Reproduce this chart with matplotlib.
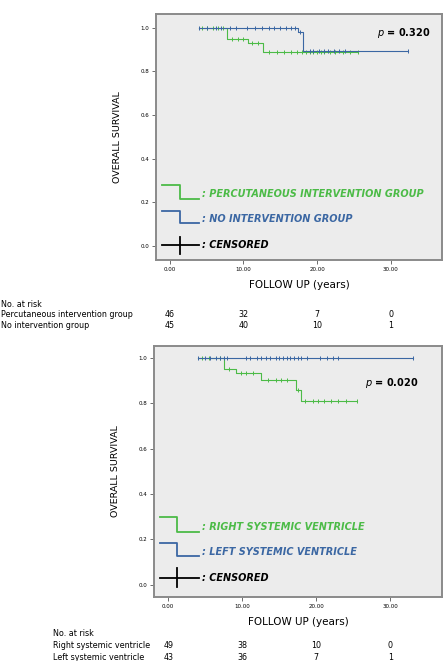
import numpy as np
import matplotlib
matplotlib.use("Agg")
import matplotlib.pyplot as plt
import matplotlib.transforms as mtransforms

# --- data ---
# top panel: percutaneous intervention vs none
perc_t = [4.0, 7.7, 10.6, 12.7, 25.6]
perc_s = [1.0, 0.95, 0.93, 0.89, 0.89]
perc_cens = [4.3, 5.0, 5.8, 6.5, 7.2, 8.5, 9.3, 10.0, 11.2, 12.0, 13.5, 14.5, 15.5,
             16.5, 17.3, 18.0, 18.5, 19.0, 19.5, 20.0, 20.5, 21.0, 21.8, 22.5, 23.5, 24.5, 25.5]
noint_t = [4.0, 17.4, 18.1, 32.4]
noint_s = [1.0, 0.98, 0.895, 0.895]
noint_cens = [4.0, 5.0, 6.2, 7.0, 8.2, 9.0, 10.5, 11.5, 12.5, 13.5, 14.2, 15.0, 15.8,
              16.5, 17.0, 17.7, 19.0, 19.5, 20.2, 21.0, 21.5, 22.3, 23.0, 23.8, 32.4]

# bottom panel: right vs left systemic ventricle
rsv_t = [4.0, 7.5, 9.2, 12.6, 17.2, 18.0, 25.5]
rsv_s = [1.0, 0.95, 0.935, 0.90, 0.86, 0.81, 0.81]
rsv_cens = [4.5, 5.5, 7.0, 8.2, 9.8, 10.5, 11.5, 13.5, 14.5, 15.3, 16.0, 17.5, 18.5,
            19.5, 20.3, 21.0, 22.0, 23.0, 24.0, 25.5]
lsv_t = [4.0, 33.0]
lsv_s = [1.0, 1.0]
lsv_cens = [4.0, 5.0, 5.6, 6.5, 7.0, 7.5, 8.0, 10.5, 11.0, 12.0, 12.5, 13.2, 13.8, 14.5,
            15.0, 15.5, 16.0, 16.5, 17.0, 17.5, 18.0, 18.7, 20.5, 21.5, 22.3, 23.0, 33.0]

risk_times = [0, 10, 20, 30]
top_risk_labels = ["Percutaneous intervention group", "No intervention group"]
top_risk = [[46, 32, 7, 0], [45, 40, 10, 1]]
bot_risk_labels = ["Right systemic ventricle", "Left systemic ventricle"]
bot_risk = [[49, 38, 10, 0], [43, 36, 7, 1]]

green = "#4cbb47"
blue = "#3b67a3"
bg = "#ececec"

fig = plt.figure(figsize=(4.43, 6.61), dpi=100)
ax1 = fig.add_axes([0.352, 0.607, 0.646, 0.372])
ax2 = fig.add_axes([0.348, 0.097, 0.650, 0.380])


def surv_at(t, times, surv):
    i = np.searchsorted(times, t, side="right") - 1
    return surv[max(i, 0)]


def km(ax, times, surv, cens, color):
    ax.step(times, surv, where="post", color=color, lw=0.8)
    ys = [surv_at(c, times, surv) for c in cens]
    ax.plot(cens, ys, ls="none", marker="|", ms=2.5, mew=0.7, color=color)


def style(ax):
    ax.set_facecolor(bg)
    ax.set_xlim(-1.9, 37)
    ax.set_xticks([0, 10, 20, 30])
    ax.set_xticklabels(["0.00", "10.00", "20.00", "30.00"])
    ax.set_yticks([0, 0.2, 0.4, 0.6, 0.8, 1.0])
    ax.set_yticklabels(["0.0", "0.2", "0.4", "0.6", "0.8", "1.0"])
    ax.tick_params(labelsize=4, length=3, width=0.6, color="#555555", pad=2)
    for s in ax.spines.values():
        s.set_color("#8a8a8a")
        s.set_linewidth(1.4)
    ax.set_xlabel("FOLLOW UP (years)", fontsize=7.5, labelpad=6)
    ax.set_ylabel("OVERALL SURVIVAL", fontsize=6.8, labelpad=13)


def legend(ax, items, ys, xs):
    x0, x1, x2, xt = xs
    for (label, color), (ytop, ybot, ytxt) in zip(items, ys):
        ax.plot([x0, x1, x1, x2], [ytop, ytop, ybot, ybot], color=color, lw=1.3,
                transform=ax.transAxes)
        ax.text(xt, ytxt, ": " + label, color=color, fontsize=7, style="italic",
                weight="bold", va="center", transform=ax.transAxes)


km(ax1, perc_t, perc_s, perc_cens, green)
km(ax1, noint_t, noint_s, noint_cens, blue)
style(ax1)
ax1.set_ylim(-0.064, 1.064)
legend(ax1, [("PERCUTANEOUS INTERVENTION GROUP", green), ("NO INTERVENTION GROUP", blue)],
       [(0.305, 0.248, 0.268), (0.199, 0.150, 0.167)], (0.021, 0.084, 0.15, 0.16))
ax1.plot([0.021, 0.15], [0.061, 0.061], color="black", lw=1.3, transform=ax1.transAxes)
ax1.plot([0.084, 0.084], [0.024, 0.093], color="black", lw=1.3, transform=ax1.transAxes)
ax1.text(0.16, 0.061, ": CENSORED", fontsize=7, style="italic", weight="bold",
         va="center", transform=ax1.transAxes)
ax1.text(0.958, 0.923, "$p$ = 0.320", fontsize=7, weight="bold", ha="right",
         va="center", transform=ax1.transAxes)

km(ax2, rsv_t, rsv_s, rsv_cens, green)
km(ax2, lsv_t, lsv_s, lsv_cens, blue)
style(ax2)
ax2.set_ylim(-0.053, 1.053)
legend(ax2, [("RIGHT SYSTEMIC VENTRICLE", green), ("LEFT SYSTEMIC VENTRICLE", blue)],
       [(0.319, 0.259, 0.279), (0.215, 0.163, 0.179)], (0.021, 0.08, 0.156, 0.166))
ax2.plot([0.021, 0.156], [0.076, 0.076], color="black", lw=1.3, transform=ax2.transAxes)
ax2.plot([0.08, 0.08], [0.038, 0.114], color="black", lw=1.3, transform=ax2.transAxes)
ax2.text(0.166, 0.076, ": CENSORED", fontsize=7, style="italic", weight="bold",
         va="center", transform=ax2.transAxes)
ax2.text(0.917, 0.853, "$p$ = 0.020", fontsize=7, weight="bold", ha="right",
         va="center", transform=ax2.transAxes)


def risk_table(ax, x_label, y_head, row_ys, labels, counts):
    tr = mtransforms.blended_transform_factory(ax.transData, fig.transFigure)
    fig.text(x_label, y_head, "No. at risk", fontsize=5.8, va="center")
    for lab, row, y in zip(labels, counts, row_ys):
        fig.text(x_label, y, lab, fontsize=5.8, va="center")
        for t, n in zip(risk_times, row):
            ax.text(t, y, str(n), fontsize=5.8, ha="center", va="center", transform=tr)


risk_table(ax1, 0.002, 0.540, [0.524, 0.508], top_risk_labels, top_risk)
risk_table(ax2, 0.12, 0.042, [0.024, 0.005], bot_risk_labels, bot_risk)

fig.savefig("out.png", dpi=100, facecolor="white")
